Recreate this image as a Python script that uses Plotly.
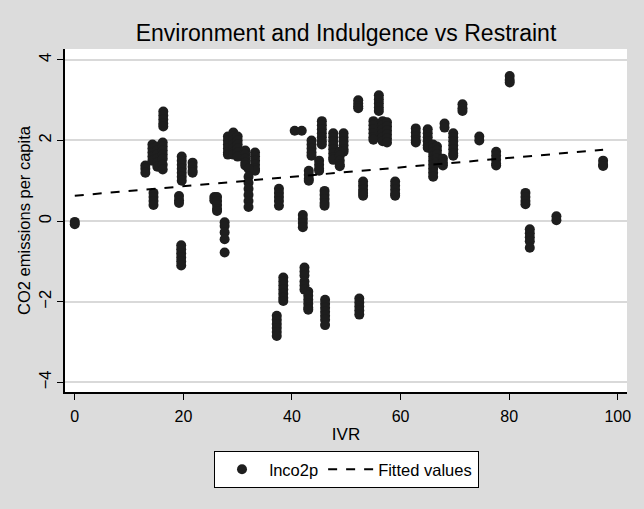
import plotly.graph_objects as go

# Panel data: each IVR value with its CO2 (log per capita) observations
ivr_stacks = [0, 13, 14.3, 15.2, 16.2, 16.3, 14.5, 19.2, 19.7, 21.7, 19.6,
              25.7, 26.2, 27.6, 28.2, 29.2, 30, 31.4, 33.2, 32, 37.6, 37.2,
              38.4, 40.5, 41.8, 42, 42.3, 43, 43.6, 43.1, 45.5, 45, 46, 46.1,
              47.6, 49.5, 48.8, 52.2, 53.1, 52.4, 56, 55, 56.7, 57.5, 59,
              62.8, 65, 66, 66.7, 68.1, 67.8, 69.7, 71.4, 74.5, 80.1, 77.6,
              97.3, 83, 88.7, 83.8]
co2_stacks = [
    [-0.02, -0.08],
    [1.38, 1.3, 1.2],
    [1.9, 1.8, 1.7, 1.6, 1.5],
    [1.85, 1.75, 1.65, 1.55, 1.45, 1.35],
    [1.95, 1.85, 1.75, 1.65, 1.55, 1.4, 1.28],
    [2.72, 2.62, 2.52, 2.42, 2.35],
    [0.7, 0.6, 0.5, 0.4],
    [0.62, 0.52, 0.45],
    [1.6, 1.5, 1.4, 1.3, 1.2, 1.1, 1.0],
    [1.45, 1.35, 1.25, 1.2],
    [-0.6, -0.7, -0.8, -0.9, -1.0, -1.1],
    [0.6, 0.52],
    [0.6, 0.5, 0.4, 0.3, 0.25],
    [-0.03, -0.12, -0.28, -0.45, -0.78],
    [2.1, 2.0, 1.9, 1.8, 1.7, 1.65],
    [2.2, 2.1, 2.0, 1.9, 1.8, 1.7, 1.65],
    [2.1, 2.0, 1.9, 1.8, 1.7, 1.6],
    [1.75, 1.65, 1.55, 1.45, 1.38],
    [1.7, 1.6, 1.5, 1.4, 1.3, 1.25],
    [1.3, 1.1, 0.95, 0.8, 0.65, 0.5, 0.35],
    [0.8, 0.7, 0.6, 0.5, 0.38],
    [-2.35, -2.45, -2.55, -2.65, -2.75, -2.85],
    [-1.4, -1.5, -1.6, -1.7, -1.8, -1.9, -1.98],
    [2.24],
    [2.24],
    [0.15, 0.05, -0.05, -0.15],
    [-1.15, -1.25, -1.35, -1.5, -1.6, -1.7],
    [-1.75, -1.85, -1.95, -2.05, -2.15, -2.2],
    [2.0, 1.9, 1.8, 1.7, 1.62],
    [1.25, 1.15, 1.05, 1.0],
    [2.48, 2.38, 2.28, 2.18, 2.08, 1.98, 1.9],
    [1.5, 1.4, 1.3, 1.25],
    [0.75, 0.65, 0.55, 0.45, 0.38],
    [-1.95, -2.05, -2.15, -2.25, -2.35, -2.45, -2.58],
    [2.18, 2.08, 1.98, 1.88, 1.78, 1.68, 1.58, 1.52],
    [2.18, 2.08, 1.98, 1.88, 1.78, 1.72],
    [1.72, 1.62, 1.5, 1.4, 1.36],
    [3.0, 2.92, 2.85, 2.8],
    [0.98, 0.88, 0.78, 0.7, 0.63],
    [-1.92, -2.02, -2.12, -2.22, -2.32],
    [3.12, 3.02, 2.92, 2.82, 2.73],
    [2.48, 2.38, 2.28, 2.18, 2.08, 2.02],
    [2.48, 2.38, 2.28, 2.18, 2.08, 1.98],
    [2.45, 2.35, 2.25, 2.15, 2.05, 1.95],
    [0.98, 0.88, 0.78, 0.68, 0.63],
    [2.3, 2.2, 2.1, 2.0, 1.95],
    [2.28, 2.18, 2.08, 1.98, 1.88, 1.82],
    [1.9, 1.8, 1.7, 1.6, 1.5, 1.4, 1.3, 1.2, 1.1],
    [1.85, 1.75, 1.65, 1.55, 1.45],
    [2.42, 2.32],
    [1.55, 1.45, 1.38],
    [2.18, 2.08, 1.98, 1.88, 1.78, 1.68, 1.62],
    [2.9, 2.8, 2.73],
    [2.1, 2.0],
    [3.6, 3.5, 3.44],
    [1.72, 1.62, 1.52, 1.42, 1.38],
    [1.5, 1.4, 1.37],
    [0.7, 0.6, 0.5, 0.42],
    [0.12, 0.02],
    [-0.2, -0.3, -0.4, -0.5, -0.66],
]

# Fitted values (linear fit endpoints)
fit_ivr = [0, 97.3]
fit_co2 = [0.63, 1.77]

x_ticks = [0, 20, 40, 60, 80, 100]
y_ticks = [-4, -2, 0, 2, 4]

xs, ys = [], []
for xv, vals in zip(ivr_stacks, co2_stacks):
    for v in vals:
        xs.append(xv)
        ys.append(v)

font = "Liberation Sans, Arial, sans-serif"

fig = go.Figure()
fig.add_trace(go.Scatter(
    x=xs, y=ys, mode="markers", name="lnco2p",
    marker=dict(size=10, color="#1e1e1e", line=dict(width=0)),
))
fig.add_trace(go.Scatter(
    x=fit_ivr, y=fit_co2, mode="lines", name="Fitted values",
    line=dict(color="black", width=2, dash="dash"),
))

fig.update_layout(
    width=644, height=509,
    paper_bgcolor="#dcdcdc", plot_bgcolor="white",
    margin=dict(l=65, r=17, t=49, b=117),
    font=dict(family=font, color="black", size=16),
    title=dict(text="Environment and Indulgence vs Restraint",
               font=dict(size=23, color="black"),
               x=0.5, xref="paper", xanchor="center",
               y=1 - 33 / 509, yref="container", yanchor="middle"),
    showlegend=True,
    legend=dict(orientation="h", x=0.5, xanchor="center", y=-0.172,
                yanchor="top", bgcolor="white", bordercolor="black",
                borderwidth=1, font=dict(size=16.5), itemwidth=45),
)
fig.update_xaxes(
    range=[-1.8, 101.7], tickvals=x_ticks, showgrid=False, zeroline=False,
    showline=True, linecolor="black", linewidth=1.5,
    ticks="outside", ticklen=6, tickcolor="black", tickwidth=1.2,
    tickfont=dict(size=16), automargin=False, ticklabelstandoff=3,
    title=dict(text="IVR", font=dict(size=17), standoff=4),
)
fig.update_yaxes(
    range=[-4.24, 4.27], tickvals=y_ticks, showgrid=True,
    gridcolor="#d9d9d9", gridwidth=1.5, zeroline=False,
    showline=True, linecolor="black", linewidth=1.5,
    ticks="outside", ticklen=6, tickcolor="black", tickwidth=1.2,
    tickangle=-90, tickfont=dict(size=16.5), automargin=False,
    title=dict(text="CO2 emissions per capita", font=dict(size=16.5), standoff=1),
)

fig.write_html(
    "out.html",
    config={"displayModeBar": False},
    post_script="document.body.style.margin='0';document.body.style.background='#dcdcdc';",
)
